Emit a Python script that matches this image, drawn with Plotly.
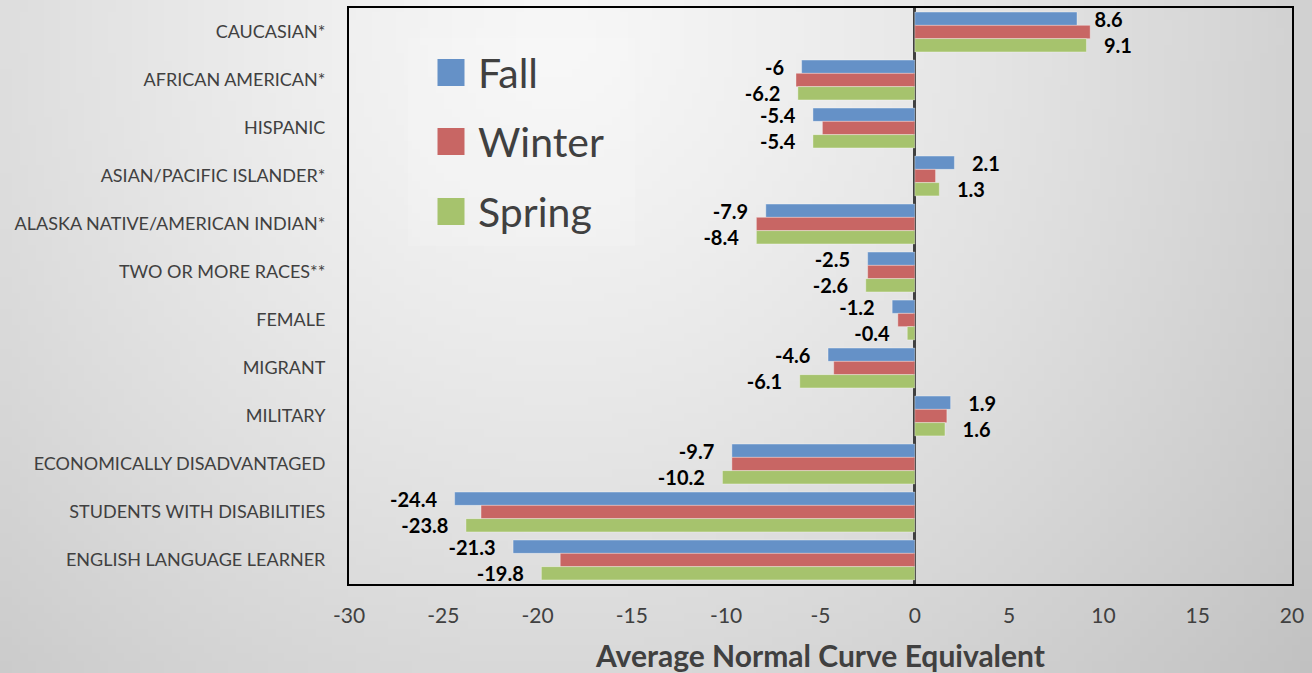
import base64, struct, zlib, math
import plotly.graph_objects as go

categories = [
    "CAUCASIAN*", "AFRICAN AMERICAN*", "HISPANIC", "ASIAN/PACIFIC ISLANDER*",
    "ALASKA NATIVE/AMERICAN INDIAN*", "TWO OR MORE RACES**", "FEMALE", "MIGRANT",
    "MILITARY", "ECONOMICALLY DISADVANTAGED", "STUDENTS WITH DISABILITIES",
    "ENGLISH LANGUAGE LEARNER",
]
fall = [8.6, -6.0, -5.4, 2.1, -7.9, -2.5, -1.2, -4.6, 1.9, -9.7, -24.4, -21.3]
winter = [9.3, -6.3, -4.9, 1.1, -8.4, -2.5, -0.9, -4.3, 1.7, -9.7, -23.0, -18.8]
spring = [9.1, -6.2, -5.4, 1.3, -8.4, -2.6, -0.4, -6.1, 1.6, -10.2, -23.8, -19.8]
series_names = ["Fall", "Winter", "Spring"]
colors = ["#6591C7", "#C86664", "#A6C36D"]
x_ticks = [-30, -25, -20, -15, -10, -5, 0, 5, 10, 15, 20]

W, H = 1312, 673
ML, MR, MT, MB = 349, 20, 8, 89
PW, PH = W - ML - MR, H - MT - MB


def gradient_png(w, h):
    rows = []
    cx, cy = 550 / W * w, 30 / H * h
    sx, sy = W / w, H / h
    for j in range(h):
        row = bytearray()
        for i in range(w):
            d = math.hypot((i - cx) * sx, (j - cy) * sy)
            v = int(max(190, 247 - 50 * (d / 940) ** 1.3))
            row += bytes((v, v, v))
        rows.append(b"\x00" + bytes(row))
    raw = b"".join(rows)

    def chunk(t, data):
        c = struct.pack(">I", len(data)) + t + data
        return c + struct.pack(">I", zlib.crc32(t + data) & 0xFFFFFFFF)

    png = b"\x89PNG\r\n\x1a\n"
    png += chunk(b"IHDR", struct.pack(">IIBBBBB", w, h, 8, 2, 0, 0, 0))
    png += chunk(b"IDAT", zlib.compress(raw, 9))
    png += chunk(b"IEND", b"")
    return "data:image/png;base64," + base64.b64encode(png).decode()


pad = "\u00a0\u00a0\u00a0"


def labels(vals):
    return [(pad + f"{v:g}") if v >= 0 else (f"{v:g}" + pad) for v in vals]


fig = go.Figure()
for name, vals, col, show in zip(series_names, [fall, winter, spring], colors, [True, False, True]):
    fig.add_trace(go.Bar(
        name=name, y=categories, x=vals, orientation="h",
        marker=dict(color=col, line=dict(color="rgba(255,255,255,0.35)", width=1)),
        text=labels(vals) if show else None,
        textposition="outside" if show else "none",
        textfont=dict(family="Lato", size=20, color="#000000", weight="bold"),
        constraintext="none", cliponaxis=False, showlegend=False,
        hoverinfo="x+y+name",
    ))

# legend drawn as annotations + squares
leg_y = [72.5, 141.5, 211.5]
shapes = [dict(type="rect", xref="paper", yref="paper",
               x0=(408 - ML) / PW, x1=(635 - ML) / PW,
               y0=(MT + PH - 246) / PH, y1=(MT + PH - 38) / PH,
               fillcolor="rgba(255,255,255,0.14)", line=dict(width=0), layer="below")]
annotations = []
for name, col, py in zip(series_names, colors, leg_y):
    yp = (MT + PH - py) / PH
    shapes.append(dict(type="rect", xref="paper", yref="paper",
                       xsizemode="pixel", ysizemode="pixel",
                       xanchor=(451 - ML) / PW, yanchor=yp,
                       x0=-13.5, x1=13.5, y0=-13.5, y1=13.5,
                       fillcolor=col, line=dict(width=0)))
    annotations.append(dict(xref="paper", yref="paper", x=(476 - ML) / PW, y=yp,
                            xanchor="left", yanchor="middle", showarrow=False,
                            text=name, font=dict(family="Lato", size=41, color="#404040")))

fig.update_layout(
    width=W, height=H,
    margin=dict(l=ML, r=MR, t=MT, b=MB, pad=0, autoexpand=False),
    paper_bgcolor="#e6e6e6", plot_bgcolor="rgba(0,0,0,0)",
    barmode="group", bargap=0.17, bargroupgap=0,
    font=dict(family="Lato", color="#404040"),
    showlegend=False,
    shapes=shapes, annotations=annotations,
    images=[dict(source=gradient_png(164, 84), xref="paper", yref="paper",
                 x=-ML / PW, y=1 + MT / PH, sizex=W / PW, sizey=H / PH,
                 xanchor="left", yanchor="top", sizing="stretch", layer="below")],
    xaxis=dict(
        range=[-30, 20], tickvals=x_ticks, ticktext=[str(t) for t in x_ticks],
        automargin=False,
        showgrid=False, zeroline=True, zerolinecolor="#404040", zerolinewidth=3,
        showline=True, mirror=True, linecolor="#000000", linewidth=2,
        ticks="outside", ticklen=12, tickcolor="rgba(0,0,0,0)",
        tickfont=dict(family="Lato", size=21, color="#404040"),
        title=dict(text="Average Normal Curve Equivalent", standoff=22,
                   font=dict(family="Lato", size=30, color="#404040", weight="bold")),
    ),
    yaxis=dict(
        categoryorder="array", categoryarray=categories, autorange="reversed",
        automargin=False,
        showgrid=False, showline=True, mirror=True, linecolor="#000000", linewidth=2,
        ticks="outside", ticklen=18, tickcolor="rgba(0,0,0,0)",
        tickfont=dict(family="Lato", size=18, color="#404040"),
    ),
)

fig.write_html("out.html", config={"displayModeBar": False},
               post_script="document.body.style.margin='0';document.body.style.padding='0';")
